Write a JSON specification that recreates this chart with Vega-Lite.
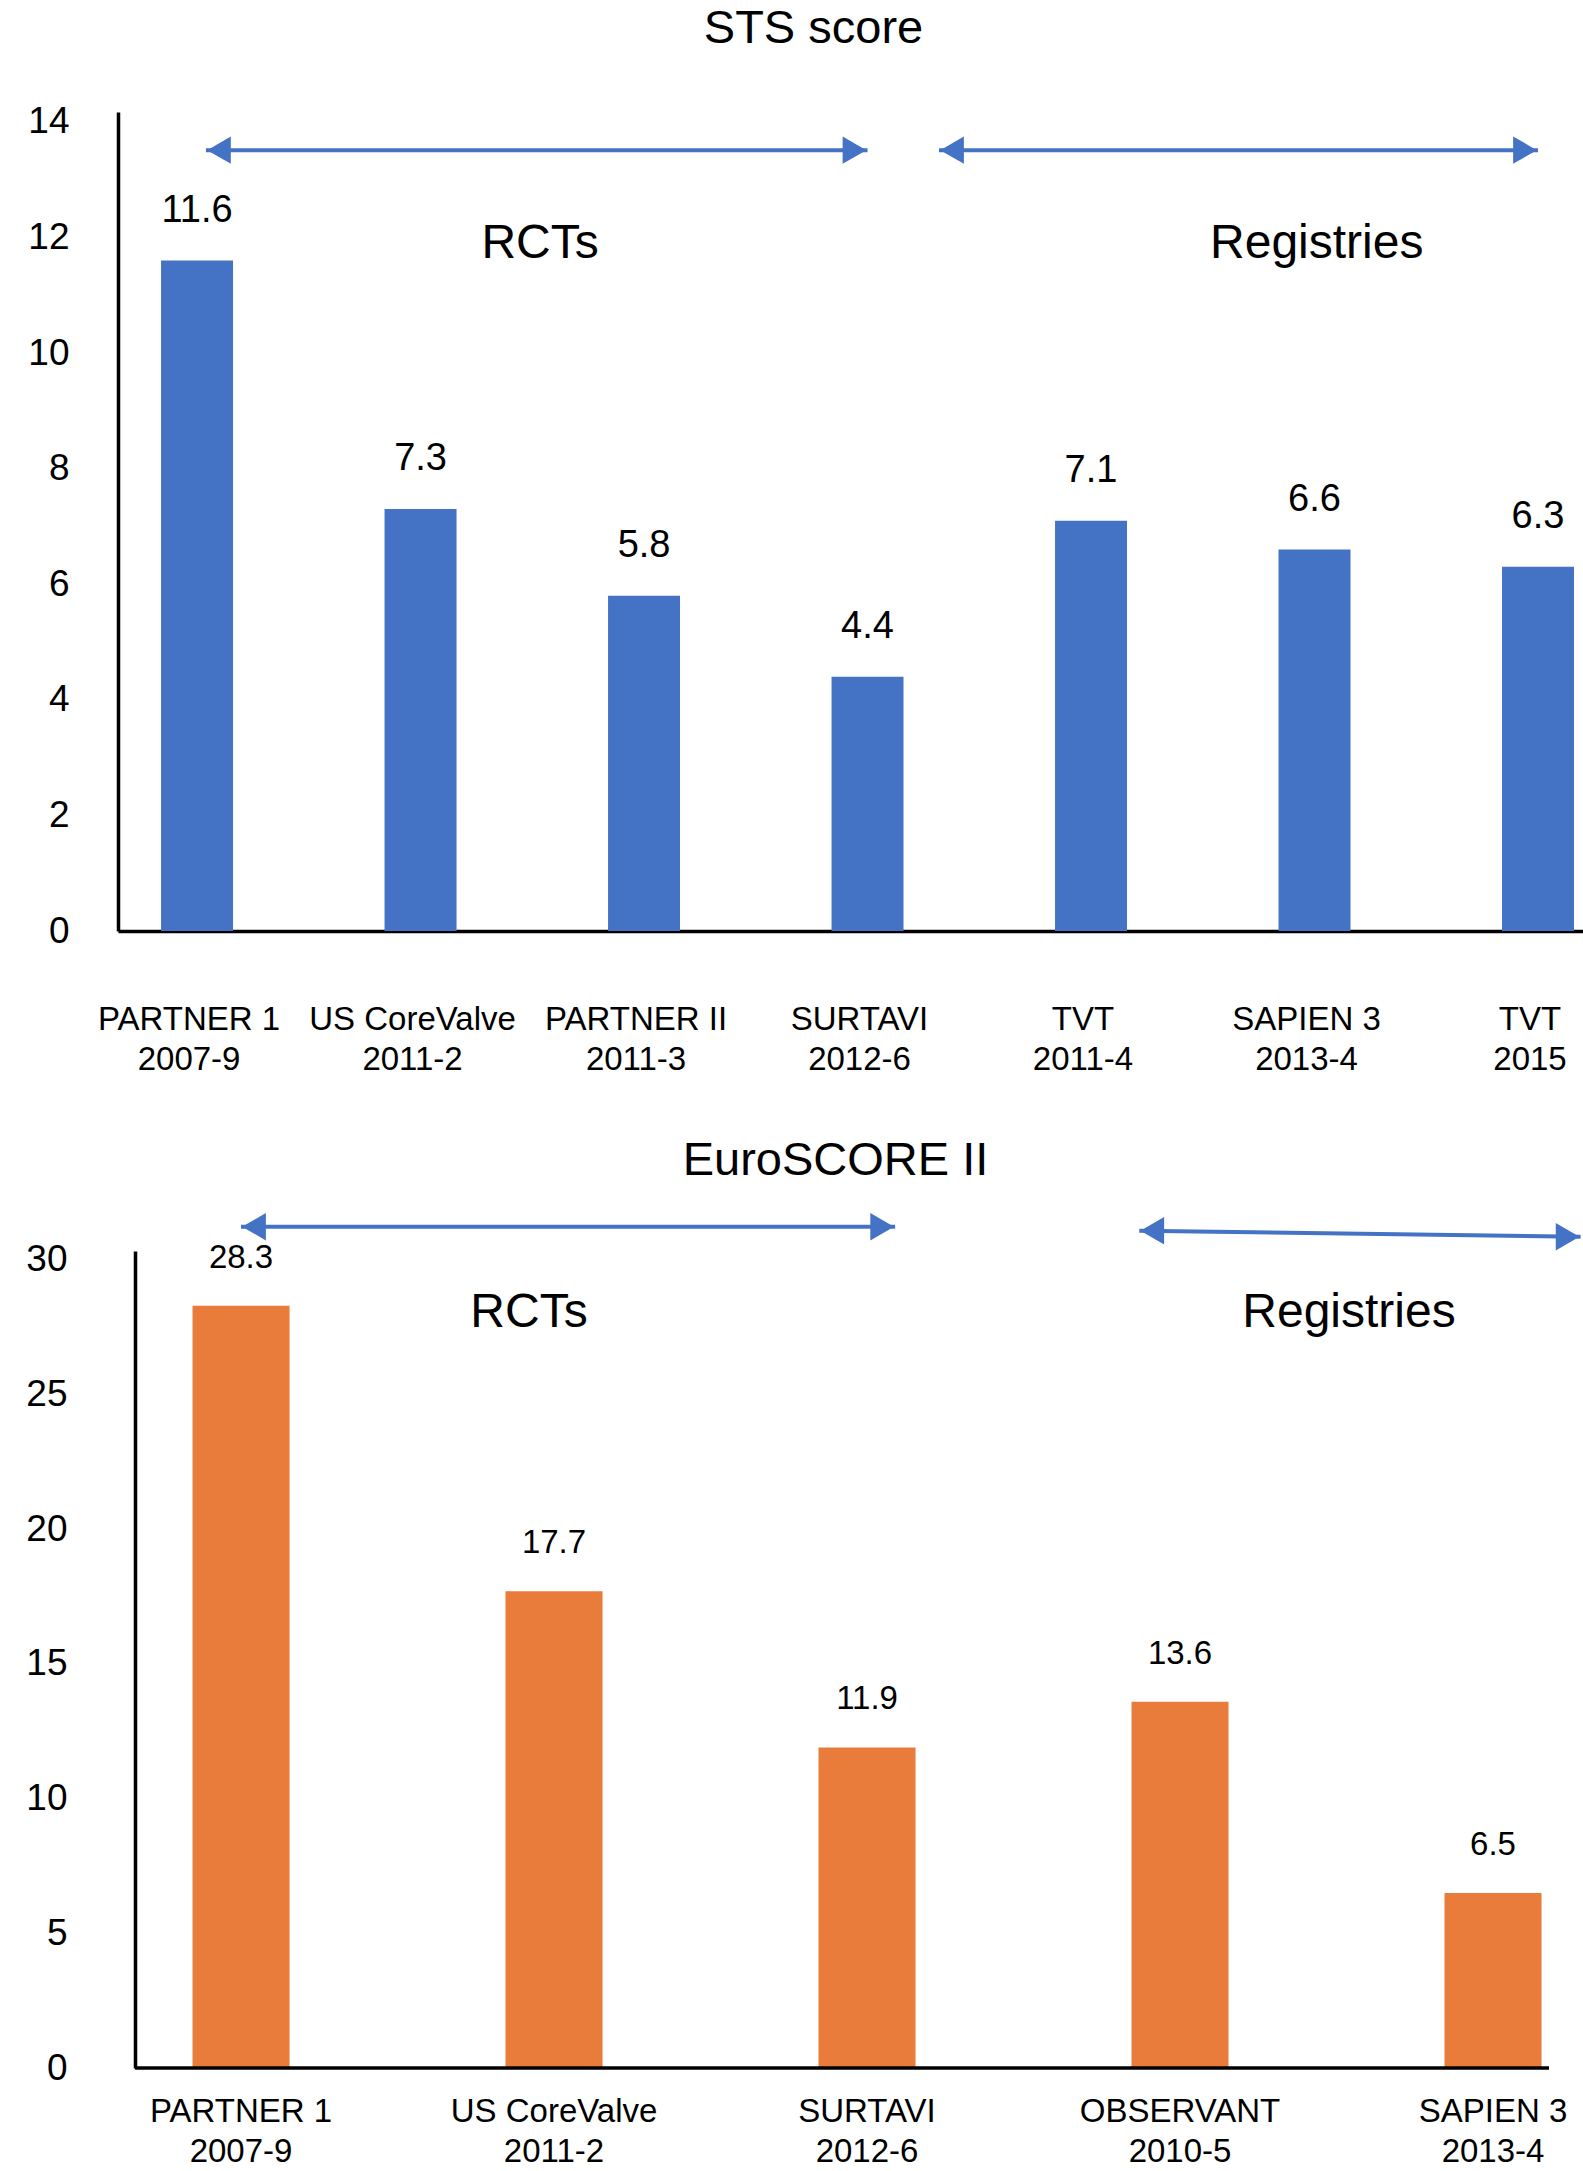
{
  "$schema": "https://vega.github.io/schema/vega-lite/v6.json",
  "padding": {"left": 25, "top": 4, "right": 0, "bottom": 0},
  "spacing": 61,
  "datasets": {
    "sts": [
      {"study": "PARTNER 1|2007-9", "value": 11.6},
      {"study": "US CoreValve|2011-2", "value": 7.3},
      {"study": "PARTNER II|2011-3", "value": 5.8},
      {"study": "SURTAVI|2012-6", "value": 4.4},
      {"study": "TVT|2011-4", "value": 7.1},
      {"study": "SAPIEN 3|2013-4", "value": 6.6},
      {"study": "TVT|2015", "value": 6.3}
    ],
    "sts_arrows": [
      {"group": "RCTs", "x1": 0.04, "x2": 3.0, "y1": 13.51, "y2": 13.51},
      {"group": "Registries", "x1": 3.32, "x2": 6.0, "y1": 13.51, "y2": 13.51}
    ],
    "sts_groups": [
      {"label": "RCTs", "x": 1.535, "y": 11.89},
      {"label": "Registries", "x": 5.01, "y": 11.89}
    ],
    "euro": [
      {"study": "PARTNER 1|2007-9", "value": 28.3},
      {"study": "US CoreValve|2011-2", "value": 17.7},
      {"study": "SURTAVI|2012-6", "value": 11.9},
      {"study": "OBSERVANT|2010-5", "value": 13.6},
      {"study": "SAPIEN 3|2013-4", "value": 6.5}
    ],
    "euro_arrows": [
      {"group": "RCTs", "x1": 0.0, "x2": 2.09, "y1": 31.23, "y2": 31.23},
      {"group": "Registries", "x1": 2.87, "x2": 4.28, "y1": 31.08, "y2": 30.86}
    ],
    "euro_groups": [
      {"label": "RCTs", "x": 0.92, "y": 28.04},
      {"label": "Registries", "x": 3.54, "y": 28.04}
    ],
    "euro_baseline": [
      {"x1": -0.3387, "x2": 4.179, "y": 0}
    ]
  },
  "vconcat": [
    {
      "title": {"text": "STS score", "frame": "group", "dx": -37, "offset": 50},
      "width": 1465,
      "height": 819,
      "resolve": {"scale": {"x": "independent"}},
      "layer": [
        {
          "data": {"name": "sts"},
          "mark": {"type": "bar", "color": "#4472C4"},
          "encoding": {
            "x": {
              "field": "study", "type": "nominal", "sort": null, "title": null,
              "scale": {"type": "band", "paddingInner": 0.678, "paddingOuter": 0.1165, "align": 0.827},
              "axis": {"labelAngle": 0, "labelFontSize": 33, "labelPadding": 72, "labelOffset": -8,
                       "labelLineHeight": 40, "labelLimit": 400, "labelOverlap": false,
                       "labelExpr": "split(datum.label, '|')"}
            },
            "y": {
              "field": "value", "type": "quantitative", "title": null,
              "scale": {"domain": [0, 14.17], "nice": false},
              "axis": {"values": [0, 2, 4, 6, 8, 10, 12, 14], "format": "d", "labelFontSize": 37, "labelPadding": 49,
                       "labelFlush": false, "labelOverlap": false}
            }
          }
        },
        {
          "data": {"name": "sts"},
          "mark": {"type": "text", "fontSize": 38, "baseline": "middle", "dy": -50, "color": "black"},
          "encoding": {
            "x": {"field": "study", "type": "nominal", "sort": null, "axis": null,
                  "scale": {"type": "band", "paddingInner": 0.678, "paddingOuter": 0.1165, "align": 0.827}},
            "y": {"field": "value", "type": "quantitative", "scale": {"domain": [0, 14.17], "nice": false}},
            "text": {"field": "value", "format": ".1f"}
          }
        },
        {
          "data": {"name": "sts_arrows"},
          "mark": {"type": "rule", "color": "#4472C4", "strokeWidth": 4},
          "encoding": {
            "x": {"field": "x1", "type": "quantitative", "axis": null,
                  "scale": {"domain": [-0.3535, 6.2013], "nice": false, "zero": false}},
            "x2": {"field": "x2"},
            "y": {"field": "y1", "type": "quantitative", "scale": {"domain": [0, 14.17], "nice": false}},
            "y2": {"field": "y2"}
          }
        },
        {
          "data": {"name": "sts_arrows"},
          "mark": {"type": "point", "shape": "triangle-left", "size": 750, "filled": true, "opacity": 1,
                   "color": "#4472C4", "xOffset": 13},
          "encoding": {
            "x": {"field": "x1", "type": "quantitative", "axis": null,
                  "scale": {"domain": [-0.3535, 6.2013], "nice": false, "zero": false}},
            "y": {"field": "y1", "type": "quantitative", "scale": {"domain": [0, 14.17], "nice": false}}
          }
        },
        {
          "data": {"name": "sts_arrows"},
          "mark": {"type": "point", "shape": "triangle-right", "size": 750, "filled": true, "opacity": 1,
                   "color": "#4472C4", "xOffset": -13},
          "encoding": {
            "x": {"field": "x2", "type": "quantitative", "axis": null,
                  "scale": {"domain": [-0.3535, 6.2013], "nice": false, "zero": false}},
            "y": {"field": "y2", "type": "quantitative", "scale": {"domain": [0, 14.17], "nice": false}}
          }
        },
        {
          "data": {"name": "sts_groups"},
          "mark": {"type": "text", "fontSize": 48, "baseline": "middle", "color": "black"},
          "encoding": {
            "x": {"field": "x", "type": "quantitative", "axis": null,
                  "scale": {"domain": [-0.3535, 6.2013], "nice": false, "zero": false}},
            "y": {"field": "y", "type": "quantitative", "scale": {"domain": [0, 14.17], "nice": false}},
            "text": {"field": "label"}
          }
        }
      ]
    },
    {
      "title": {"text": "EuroSCORE II", "frame": "group", "dx": 2, "offset": 28},
      "width": 1431,
      "height": 817,
      "resolve": {"scale": {"x": "independent"}},
      "layer": [
        {
          "data": {"name": "euro"},
          "mark": {"type": "bar", "color": "#E97C3A"},
          "encoding": {
            "x": {
              "field": "study", "type": "nominal", "sort": null, "title": null,
              "scale": {"type": "band", "range": [17, 1431], "paddingInner": 0.69, "paddingOuter": 0.1038, "align": 0.885},
              "axis": {"domain": false, "labelAngle": 0, "labelFontSize": 33, "labelPadding": 27,
                       "labelLineHeight": 40, "labelLimit": 400, "labelOverlap": false,
                       "labelExpr": "split(datum.label, '|')"}
            },
            "y": {
              "field": "value", "type": "quantitative", "title": null,
              "scale": {"domain": [0, 30.33], "nice": false},
              "axis": {"values": [0, 5, 10, 15, 20, 25, 30], "format": "d", "labelFontSize": 37, "labelPadding": 68,
                       "offset": -17, "labelFlush": false, "labelOverlap": false}
            }
          }
        },
        {
          "data": {"name": "euro"},
          "mark": {"type": "text", "fontSize": 33, "baseline": "middle", "dy": -48, "color": "black"},
          "encoding": {
            "x": {"field": "study", "type": "nominal", "sort": null, "axis": null,
                  "scale": {"type": "band", "range": [17, 1431], "paddingInner": 0.69, "paddingOuter": 0.1038, "align": 0.885}},
            "y": {"field": "value", "type": "quantitative", "scale": {"domain": [0, 30.33], "nice": false}},
            "text": {"field": "value", "format": ".1f"}
          }
        },
        {
          "data": {"name": "euro_baseline"},
          "mark": {"type": "rule", "color": "black", "strokeWidth": 3.5},
          "encoding": {
            "x": {"field": "x1", "type": "quantitative", "axis": null,
                  "scale": {"domain": [-0.3387, 4.179], "range": [17, 1431], "nice": false, "zero": false}},
            "x2": {"field": "x2"},
            "y": {"field": "y", "type": "quantitative", "scale": {"domain": [0, 30.33], "nice": false}}
          }
        },
        {
          "data": {"name": "euro_arrows"},
          "mark": {"type": "rule", "color": "#4472C4", "strokeWidth": 4},
          "encoding": {
            "x": {"field": "x1", "type": "quantitative", "axis": null,
                  "scale": {"domain": [-0.3387, 4.179], "range": [17, 1431], "nice": false, "zero": false}},
            "x2": {"field": "x2"},
            "y": {"field": "y1", "type": "quantitative", "scale": {"domain": [0, 30.33], "nice": false}},
            "y2": {"field": "y2"}
          }
        },
        {
          "data": {"name": "euro_arrows"},
          "mark": {"type": "point", "shape": "triangle-left", "size": 750, "filled": true, "opacity": 1,
                   "color": "#4472C4", "xOffset": 13},
          "encoding": {
            "x": {"field": "x1", "type": "quantitative", "axis": null,
                  "scale": {"domain": [-0.3387, 4.179], "range": [17, 1431], "nice": false, "zero": false}},
            "y": {"field": "y1", "type": "quantitative", "scale": {"domain": [0, 30.33], "nice": false}}
          }
        },
        {
          "data": {"name": "euro_arrows"},
          "mark": {"type": "point", "shape": "triangle-right", "size": 750, "filled": true, "opacity": 1,
                   "color": "#4472C4", "xOffset": -13},
          "encoding": {
            "x": {"field": "x2", "type": "quantitative", "axis": null,
                  "scale": {"domain": [-0.3387, 4.179], "range": [17, 1431], "nice": false, "zero": false}},
            "y": {"field": "y2", "type": "quantitative", "scale": {"domain": [0, 30.33], "nice": false}}
          }
        },
        {
          "data": {"name": "euro_groups"},
          "mark": {"type": "text", "fontSize": 48, "baseline": "middle", "color": "black"},
          "encoding": {
            "x": {"field": "x", "type": "quantitative", "axis": null,
                  "scale": {"domain": [-0.3387, 4.179], "range": [17, 1431], "nice": false, "zero": false}},
            "y": {"field": "y", "type": "quantitative", "scale": {"domain": [0, 30.33], "nice": false}},
            "text": {"field": "label"}
          }
        }
      ]
    }
  ],
  "config": {
    "font": "Liberation Sans",
    "view": {"stroke": null},
    "axis": {"domainColor": "black", "domainWidth": 3.5, "ticks": false, "grid": false,
             "labelColor": "black", "labelFont": "Liberation Sans"},
    "title": {"fontSize": 47, "fontWeight": "normal", "font": "Liberation Sans", "color": "black", "anchor": "middle"}
  }
}
